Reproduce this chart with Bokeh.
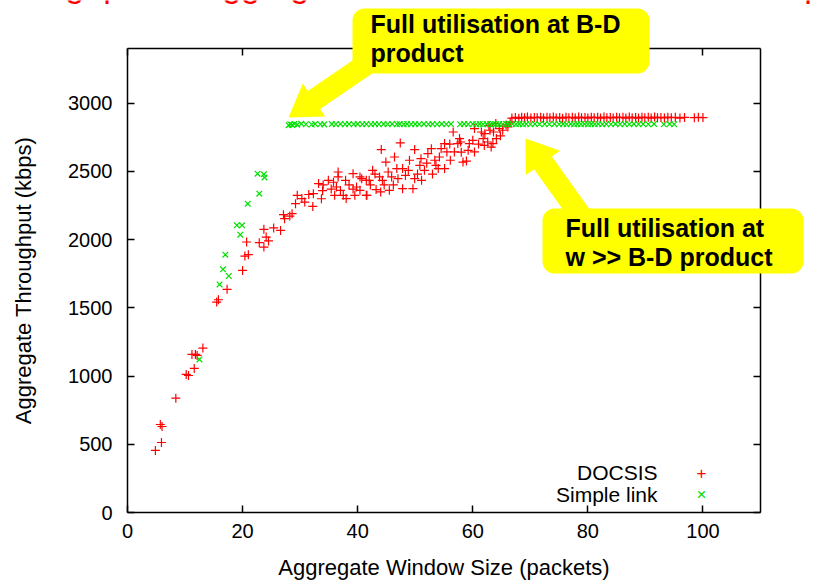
from bokeh.plotting import figure
from bokeh.models import (LinearAxis, Range1d, Label, BoxAnnotation, PolyAnnotation,
                          FixedTicker)
from bokeh.embed import file_html
from bokeh.resources import INLINE

# ---------------- data ----------------
docsis_points = [
    (4.85, 455), (5.9, 513), (5.7, 645), (6.0, 630), (8.4, 838), (10.2, 1012), (10.6, 1004),
    (11.6, 1056), (11.2, 1158), (11.8, 1158), (12.1, 1151), (13.1, 1205), (15.5, 1542),
    (15.8, 1559), (17.3, 1635), (20.0, 1774),
    (20.4, 1879), (21.0, 1889), (20.7, 1982), (22.9, 1977), (23.7, 1945), (24.1, 2018),
    (23.7, 2075), (25.4, 2085), (26.6, 2067), (27.1, 2182), (27.3, 2153), (28.2, 2172),
    (29.2, 2263), (29.5, 2324), (30.8, 2275), (32.2, 2243), (32.3, 2336), (33.2, 2410),
    (33.7, 2299), (33.9, 2358), (34.9, 2434), (35.4, 2370), (36.0, 2324), (36.3, 2385),
    (36.6, 2459), (36.6, 2495), (37.5, 2324), (37.9, 2434), (39.2, 2483), (39.2, 2370),
    (39.5, 2324), (39.8, 2385), (40.4, 2459), (41.5, 2324), (42.0, 2434),
    (24.5, 1990), (28.6, 2190), (30.3, 2300), (31.5, 2330), (34.0, 2400), (35.8, 2420),
    (37.0, 2360), (38.5, 2400), (38.0, 2300),
    (40.4, 2361), (40.7, 2446), (41.6, 2324), (41.5, 2434), (42.6, 2507), (43.2, 2366),
    (44.0, 2349), (44.1, 2659), (43.8, 2459), (44.3, 2434), (44.9, 2568), (45.3, 2495),
    (45.5, 2361), (45.9, 2459), (46.4, 2605), (47.0, 2446), (47.4, 2708), (47.8, 2520),
    (47.8, 2373), (48.8, 2507), (49.0, 2581), (49.6, 2373), (49.9, 2659), (49.9, 2446),
    (50.8, 2544), (51.0, 2593), (51.1, 2434), (51.6, 2507), (52.2, 2630), (52.8, 2666),
    (53.4, 2581), (53.6, 2544), (54.0, 2520), (54.2, 2605), (54.5, 2666), (55.1, 2703),
    (55.1, 2520), (55.5, 2642), (56.1, 2581), (56.6, 2788), (56.8, 2642), (57.4, 2703),
    (57.7, 2740), (57.9, 2715), (58.3, 2568), (58.9, 2575), (59.2, 2654), (59.4, 2703),
    (60.0, 2727), (60.3, 2642), (60.3, 2813), (61.5, 2788), (62.1, 2776), (62.0, 2690),
    (62.6, 2715), (63.2, 2678), (63.5, 2703), (63.0, 2801), (63.6, 2788), (64.1, 2740),
    (64.6, 2813), (65.2, 2801), (66.1, 2825),
    (42.2, 2400), (43.0, 2480), (44.6, 2400), (46.2, 2400), (46.8, 2520), (48.3, 2470),
    (50.4, 2480), (52.0, 2560), (53.0, 2480), (56.0, 2700), (58.0, 2640), (61.0, 2700),
    (61.8, 2740), (64.8, 2760), (65.8, 2840), (66.5, 2860), (64.0, 2850), (62.8, 2835),
    (66.8, 2890), (67.4, 2895), (68.0, 2888), (68.5, 2896), (69.0, 2892), (69.5, 2898),
    (70.1, 2890), (70.7, 2895), (71.2, 2893), (71.8, 2897), (72.3, 2890), (72.9, 2896),
    (73.4, 2892), (74.0, 2898), (74.5, 2891), (75.1, 2895), (75.6, 2889), (76.2, 2897),
    (76.7, 2893), (77.3, 2896), (77.8, 2890), (78.4, 2898), (78.9, 2892), (79.5, 2895),
    (80.0, 2890), (80.6, 2897), (81.1, 2893), (81.7, 2896), (82.2, 2890), (82.8, 2898),
    (83.3, 2892), (83.9, 2895), (84.4, 2891), (85.0, 2897), (85.5, 2893), (86.1, 2896),
    (86.6, 2890), (87.2, 2898), (87.7, 2892), (88.3, 2895), (88.8, 2890), (89.4, 2897),
    (89.9, 2893), (90.5, 2896), (91.0, 2890), (91.6, 2898), (92.1, 2892), (92.7, 2895),
    (93.3, 2891), (93.9, 2897), (94.5, 2893), (95.2, 2896), (96.0, 2890), (96.8, 2895),
    (98.5, 2893), (99.2, 2896), (100.0, 2894),
]

simple_points = [
    (12.5, 1122), (16.0, 1671), (17.6, 1733), (16.6, 1782), (17.0, 1889), (19.6, 2036),
    (19.0, 2104), (19.9, 2104), (20.9, 2263), (22.9, 2336), (22.6, 2483), (23.7, 2478),
    (23.8, 2455),
    (28.0, 2838), (28.3, 2845), (28.6, 2840), (29.0, 2846), (29.5, 2842), (30.2, 2848),
    (31.0, 2845), (32.0, 2843), (32.6, 2847), (33.5, 2845), (34.2, 2844), (35.5, 2846),
    (36.2, 2845), (37.0, 2847), (37.8, 2845), (38.5, 2846), (39.3, 2845), (40.0, 2847),
    (40.8, 2845), (41.5, 2846), (42.3, 2845), (43.0, 2847), (43.7, 2845), (44.5, 2846),
    (45.2, 2845), (46.0, 2847), (46.8, 2845), (47.3, 2846), (48.0, 2845), (48.6, 2847),
    (49.3, 2845), (50.0, 2846), (50.7, 2845), (51.5, 2847), (52.3, 2845), (53.0, 2846),
    (53.8, 2845), (54.6, 2847), (55.4, 2845), (56.2, 2846), (57.8, 2845), (58.5, 2847),
    (59.2, 2845), (60.0, 2846), (60.6, 2845), (61.2, 2847), (61.8, 2845), (62.4, 2846),
    (63.0, 2845), (63.5, 2847), (64.0, 2845), (64.6, 2846), (65.2, 2845), (65.8, 2847),
    (66.3, 2845), (66.9, 2846), (67.5, 2845), (68.1, 2847), (68.7, 2845), (69.3, 2846),
    (70.0, 2845), (70.8, 2847), (71.6, 2845), (72.5, 2846), (73.3, 2845), (74.2, 2847),
    (75.0, 2845), (75.7, 2846), (76.3, 2845), (77.0, 2847), (77.6, 2845), (78.2, 2846),
    (78.8, 2845), (79.4, 2847), (80.0, 2845), (80.6, 2846), (81.2, 2845), (81.8, 2847),
    (82.5, 2845), (83.2, 2846), (84.0, 2845), (84.8, 2847), (85.6, 2845), (86.4, 2846),
    (87.2, 2845), (88.0, 2847), (88.8, 2845), (89.6, 2846), (90.5, 2845), (91.5, 2847),
    (93.2, 2845), (94.2, 2846), (95.0, 2845),
]

series_names = ["DOCSIS", "Simple link"]
x_ticks = [0, 20, 40, 60, 80, 100]
y_ticks = [0, 500, 1000, 1500, 2000, 2500, 3000]
x_limits = (0, 110)
y_limits = (0, 3400)
x_title = "Aggregate Window Size (packets)"
y_title = "Aggregate Throughput (kbps)"
chart_title = "Throughput vs aggregate window size: DOCSIS vs simple link"
callout_1 = ["Full utilisation at B-D", "product"]
callout_2 = ["Full utilisation at", "w >> B-D product"]

# ---------------- layout ----------------
W, H = 831, 583
FL, FR, FT, FB = 127, 760, 48, 512   # plot-box edges in canvas pixels
FONT = "Liberation Sans"
ppx = (FR - FL) / (x_limits[1] - x_limits[0])
ppy = (FB - FT) / (y_limits[1] - y_limits[0])


def dx(px):
    return x_limits[0] + (px - FL) / ppx


def dy(py):
    return y_limits[0] + (FB - py) / ppy


# the frame covers the whole canvas so callouts can reach outside the plot box
p = figure(width=W, height=H,
           x_range=Range1d(dx(0), dx(W)), y_range=Range1d(dy(H), dy(0)),
           x_axis_type=None, y_axis_type=None,
           output_backend="svg", toolbar_location=None,
           min_border=0, min_border_left=0, min_border_right=0,
           min_border_top=0, min_border_bottom=0)
p.xgrid.visible = False
p.ygrid.visible = False
p.outline_line_color = None
p.background_fill_color = "white"
p.border_fill_color = "white"

ax_b = LinearAxis(fixed_location=y_limits[0], bounds=x_limits, ticker=FixedTicker(ticks=x_ticks),
                  axis_label=x_title)
ax_t = LinearAxis(fixed_location=y_limits[1], bounds=x_limits, ticker=FixedTicker(ticks=x_ticks))
ax_l = LinearAxis(fixed_location=x_limits[0], bounds=y_limits, ticker=FixedTicker(ticks=y_ticks),
                  axis_label=y_title)
ax_r = LinearAxis(fixed_location=x_limits[1], bounds=y_limits, ticker=FixedTicker(ticks=y_ticks))
p.add_layout(ax_b, "below")
p.add_layout(ax_t, "above")
p.add_layout(ax_l, "left")
p.add_layout(ax_r, "right")

for ax in (ax_b, ax_t, ax_l, ax_r):
    ax.major_tick_in = 7
    ax.major_tick_out = 0
    ax.minor_tick_in = 0
    ax.minor_tick_out = 0
    ax.axis_line_color = "black"
    ax.axis_line_width = 1.5
    ax.major_tick_line_color = "black"
    ax.major_tick_line_width = 1.5
    ax.major_label_text_font = FONT
    ax.major_label_text_color = "black"
    ax.major_label_text_font_size = "20px"
    ax.axis_label_text_font = FONT
    ax.axis_label_text_font_style = "normal"
    ax.axis_label_text_font_size = "22px"
    ax.axis_label_text_color = "black"

for ax in (ax_t, ax_r):
    ax.major_label_text_color = None

ax_b.major_label_standoff = 11
ax_b.axis_label_standoff = 14
ax_l.major_label_standoff = 15
ax_l.axis_label_standoff = 29

# ---------------- data marks ----------------
docsis_x = [a for a, b in docsis_points]
docsis_y = [b for a, b in docsis_points]
simple_x = [a for a, b in simple_points]
simple_y = [b for a, b in simple_points]

p.scatter(docsis_x, docsis_y, marker="cross", size=9, line_color="#ff0000", line_width=1.2)
p.scatter(simple_x, simple_y, marker="x", size=8, line_color="#00e000", line_width=1.2)

# ---------------- key (gnuplot style: text then symbol) ----------------
for i, (name, sym, col) in enumerate(zip(series_names, ["+", "\u00d7"], ["#ff0000", "#00e000"])):
    yc = 472 + 22 * i
    p.add_layout(Label(x=dx(657), y=dy(yc), text=name,
                       text_align="right", text_baseline="middle", text_font=FONT,
                       text_font_size="21px", text_color="black"))
    p.add_layout(Label(x=dx(701), y=dy(yc), text=sym,
                       text_align="center", text_baseline="middle", text_font=FONT,
                       text_font_size="17px", text_color=col))

# ---------------- red slide title, cut by the top edge ----------------
p.add_layout(Label(x=dx(-24), y=dy(-16), text=chart_title,
                   text_align="left", text_baseline="alphabetic", text_font=FONT,
                   text_font_size="34px", text_color="#ff0000"))

# ---------------- callouts ----------------
YEL = "#ffff00"


def poly(points):
    return PolyAnnotation(xs=[dx(a) for a, b in points], ys=[dy(b) for a, b in points],
                          fill_color=YEL, fill_alpha=1.0, line_color=None, level="overlay")


arrow_1 = [(288, 117), (324.7, 115.9), (319.7, 108.5), (381.2, 66.5), (368.8, 48.5),
           (307.3, 90.5), (302.3, 83.1)]
arrow_2 = [(525, 138), (559.6, 150.2), (551.4, 156.0), (592.1, 212.9), (574.3, 225.7),
           (533.6, 168.8), (525.4, 174.6)]
p.add_layout(poly(arrow_1))
p.add_layout(poly(arrow_2))

for (l, r, t, b) in [(352, 649, 8, 73), (542, 803, 208, 273)]:
    p.add_layout(BoxAnnotation(left=dx(l), right=dx(r), top=dy(t), bottom=dy(b),
                               fill_color=YEL, fill_alpha=1.0, line_color=None,
                               border_radius=12, level="overlay"))

for lines, x0, base0 in [(callout_1, 370, 23), (callout_2, 565, 227)]:
    for k, t in enumerate(lines):
        p.add_layout(Label(x=dx(x0), y=dy(base0 + 29 * k),
                           text=t, text_align="left", text_baseline="alphabetic",
                           text_font=FONT, text_font_size="25px", text_font_style="bold",
                           text_color="black", level="overlay"))

open("out.html", "w").write(file_html(p, INLINE))
